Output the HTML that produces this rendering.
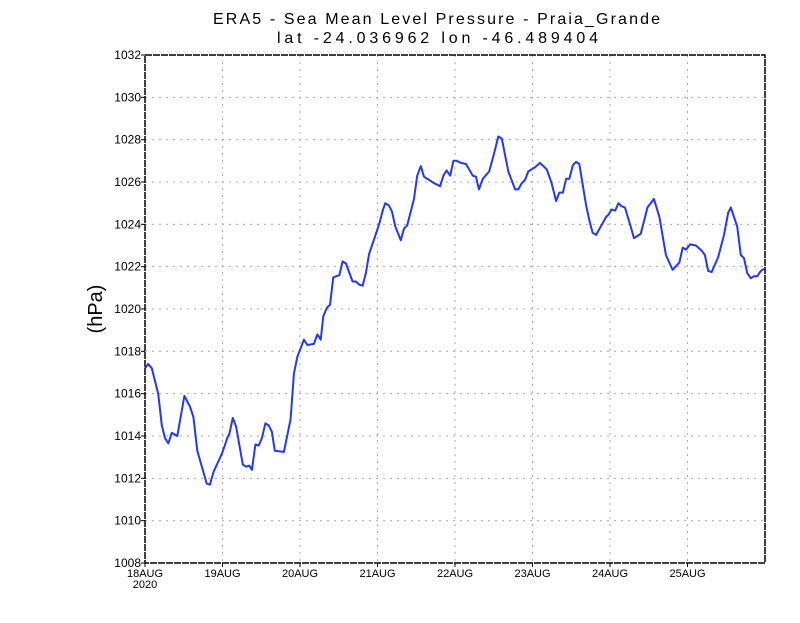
<!DOCTYPE html>
<html><head><meta charset="utf-8"><style>
body{margin:0;background:#fff;}
svg text{font-family:"Liberation Sans",sans-serif;}
</style></head><body>
<svg id="chart" width="800" height="618" viewBox="0 0 800 618" xmlns="http://www.w3.org/2000/svg">
<rect width="800" height="618" fill="#fff"/>
<text x="213" y="24" font-size="16" textLength="447" lengthAdjust="spacing">ERA5 - Sea Mean Level Pressure - Praia_Grande</text>
<text x="277" y="43" font-size="16" textLength="321" lengthAdjust="spacing">lat -24.036962 lon -46.489404</text>
<text x="0" y="0" font-size="20" text-anchor="middle" transform="translate(102,309) rotate(-90)">(hPa)</text>
<g id="grid"></g>
<g id="axes"></g>
<g id="series"></g>
</svg>
<script>
const hours=[0,1.0,2.1,4.1,5.2,6.2,7.2,8.3,10.0,12.2,13.9,15.0,16.2,19.1,20.1,21.2,23.9,25.5,26.1,27.2,28.2,30.3,31.3,32.3,33.1,34.2,35.2,36.2,37.3,38.3,39.3,40.2,43.0,45.1,46.1,47.2,49.2,50.3,52.3,53.4,54.4,55.2,56.3,57.3,58.3,60.2,61.2,62.2,64.3,65.3,66.4,67.4,68.4,69.4,71.5,72.6,73.6,74.4,75.5,76.5,77.5,79.2,80.2,81.2,83.3,84.3,85.4,86.4,89.5,91.4,92.4,93.4,94.5,95.5,96.5,97.8,99.4,101.5,102.5,103.4,104.6,106.6,108.1,109.4,110.5,112.5,114.6,115.6,116.7,117.7,118.7,120.8,122.3,124.4,125.9,127.3,128.3,129.4,130.4,131.4,132.5,133.5,134.5,136.6,137.6,138.6,139.7,141.7,142.8,143.5,144.5,145.6,146.6,147.6,148.6,150.4,151.4,153.5,155.6,157.6,159.3,161.3,163.4,165.5,166.5,167.5,168.8,170.6,172.4,173.4,174.4,175.5,177.5,179.3,180.6,181.4,183.4,184.5,185.5,186.5,187.6,188.6,189.6,190.7,191.7];
const pressure=[1017.2,1017.4,1017.2,1016.0,1014.5,1013.9,1013.65,1014.15,1014.0,1015.9,1015.4,1014.9,1013.3,1011.75,1011.7,1012.3,1013.2,1013.9,1014.1,1014.85,1014.45,1012.65,1012.55,1012.6,1012.4,1013.6,1013.55,1013.9,1014.6,1014.5,1014.2,1013.3,1013.25,1014.8,1016.95,1017.75,1018.55,1018.3,1018.35,1018.8,1018.55,1019.65,1020.05,1020.2,1021.5,1021.6,1022.25,1022.15,1021.3,1021.3,1021.15,1021.1,1021.7,1022.6,1023.55,1024.05,1024.65,1025.0,1024.9,1024.6,1023.9,1023.25,1023.8,1023.95,1025.2,1026.3,1026.75,1026.25,1025.95,1025.8,1026.3,1026.55,1026.3,1027.0,1027.0,1026.9,1026.85,1026.3,1026.25,1025.65,1026.15,1026.5,1027.35,1028.15,1028.05,1026.5,1025.65,1025.65,1025.95,1026.1,1026.5,1026.7,1026.9,1026.6,1025.95,1025.1,1025.5,1025.5,1026.15,1026.15,1026.8,1026.95,1026.85,1024.9,1024.2,1023.6,1023.5,1024.05,1024.35,1024.45,1024.7,1024.65,1025.0,1024.85,1024.8,1023.9,1023.35,1023.55,1024.8,1025.2,1024.35,1022.55,1021.85,1022.2,1022.9,1022.8,1023.05,1023.0,1022.75,1022.55,1021.8,1021.75,1022.45,1023.5,1024.55,1024.8,1023.9,1022.55,1022.4,1021.7,1021.45,1021.55,1021.55,1021.8,1021.9];
const yTicks=[1008,1010,1012,1014,1016,1018,1020,1022,1024,1026,1028,1030,1032];
const xTickLabels=["18AUG","19AUG","20AUG","21AUG","22AUG","23AUG","24AUG","25AUG"];
const X0=145,X1=765,Y0=563,Y1=55;
const xs=h=>X0+(h/192)*(X1-X0);
const ys=v=>Y0-(v-1008)/24*(Y0-Y1);
const NS="http://www.w3.org/2000/svg";
function mk(tag,attrs,parent,txt){const e=document.createElementNS(NS,tag);for(const k in attrs)e.setAttribute(k,attrs[k]);if(txt!==undefined)e.textContent=txt;parent.appendChild(e);return e;}
const grid=document.getElementById('grid'),axes=document.getElementById('axes'),series=document.getElementById('series');
yTicks.forEach(v=>{
  const y=ys(v);
  if(v>1008&&v<1032){const l=mk('line',{x1:X0,x2:X1,y1:y,y2:y,stroke:'#aaa','stroke-width':1,'stroke-dasharray':'2,5'},grid);
  
  }
  const t=mk('line',{x1:X0-4,x2:X0,y1:y,y2:y,stroke:'#000'},axes);
  
  
  const tx=mk('text',{x:X0-4,y:y+4,'font-size':12,'text-anchor':'end'},axes,String(v));
  
  
});
xTickLabels.forEach((lab,i)=>{
  const x=xs(i*24);
  if(i>0){const l=mk('line',{x1:x,x2:x,y1:Y1,y2:Y0,stroke:'#aaa','stroke-width':1,'stroke-dasharray':'2,5'},grid);
  
  }
  const t=mk('line',{x1:x,x2:x,y1:Y0,y2:Y0+4,stroke:'#000'},axes);
  
  
  const tx=mk('text',{x:x,y:Y0+14,'font-size':11,'text-anchor':'middle'},axes,lab);
  
  
});
const yr=mk('text',{x:xs(0),y:Y0+25,'font-size':11,'text-anchor':'middle'},axes,'2020');


const frame=mk('rect',{x:X0,y:Y1,width:X1-X0,height:Y0-Y1,fill:'none',stroke:'#000','stroke-width':1.5,'stroke-dasharray':'7,1'},axes);


const pts=hours.map((h,i)=>xs(h).toFixed(1)+','+ys(pressure[i]).toFixed(1)).join(' ');
const line=mk('polyline',{points:pts,fill:'none',stroke:'#2536ff','stroke-width':2,'stroke-linejoin':'round'},series);


</script>
</body></html>
